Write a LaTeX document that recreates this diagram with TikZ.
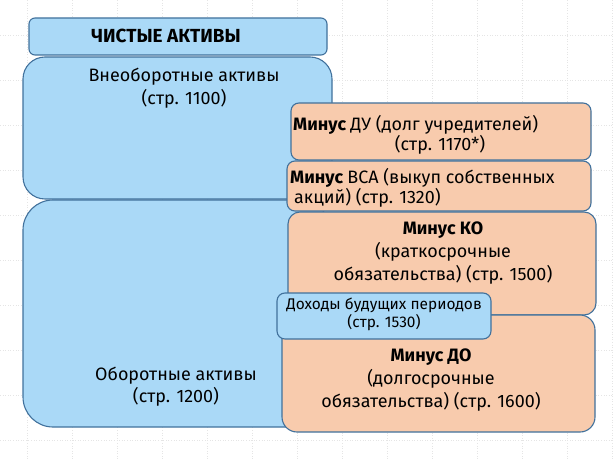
\documentclass[tikz,border=0pt]{standalone}
\usepackage{fontspec}
\setmainfont{Fira Sans}
\definecolor{boxblue}{HTML}{AAD9F7}
\definecolor{boxpeach}{HTML}{F8CBAD}
\definecolor{boxline}{HTML}{41719C}
\tikzset{
  bluebox/.style={draw=boxline, fill=boxblue, line width=1.1pt},
  peachbox/.style={draw=boxline, fill=boxpeach, line width=1.1pt},
  label/.style={inner sep=0pt, align=center, font=\fontsize{18}{23}\selectfont},
  smalllabel/.style={inner sep=0pt, align=center, font=\fontsize{15.5}{18}\selectfont},
}
\begin{document}
\begin{tikzpicture}[x=1bp, y=-1bp]
  \useasboundingbox (0,0) rectangle (613,461);

    %%background grid
    \foreach \gx in {27,72,...,612}
      \draw[black!10, dotted, line width=.6pt](\gx, 0) to (\gx, 461);
    \foreach \gy in {35,80,...,460}
      \draw[black!10, dotted, line width=.6pt](0, \gy) to (613, \gy);

    %%title
    \draw[bluebox, rounded corners=6bp](29, 18) rectangle (327, 55);
    \node[label, font=\fontsize{19}{23}\selectfont] (title) at (166, 36) {\bfseries ЧИСТЫЕ АКТИВЫ};

    %%assets
    \draw[bluebox, rounded corners=22bp](23, 57) rectangle (332, 199);
    \node[label] (vneob) at (184, 88) {Внеоборотные активы\\(стр. 1100)};

    \draw[bluebox, rounded corners=30bp](23, 200) rectangle (330, 427);
    \node[label, font=\fontsize{18}{22}\selectfont] (obor) at (176, 387) {Оборотные активы\\(стр. 1200)};

    %%minus DU
    \draw[peachbox, rounded corners=8bp](291, 103) rectangle (591, 160);
    \node[label, anchor=west] (du) at (293, 125) {\bfseries Минус \mdseries ДУ (долг учредителей)};
    \node[label] (dustr) at (440, 145) {(стр. 1170*)};

    %%minus VSA
    \draw[peachbox, rounded corners=8bp](287, 161) rectangle (591, 211);
    \node[label, anchor=west] (vsa) at (290, 178) {\bfseries Минус \mdseries ВСА (выкуп собственных};
    \node[label, anchor=west] (vsastr) at (294, 198) {акций) (стр. 1320)};

    %%minus KO
    \draw[peachbox, rounded corners=12bp](288, 212) rectangle (596, 315);
    \node[label] (ko) at (443, 253) {\bfseries Минус КО\\(краткосрочные\\обязательства) (стр. 1500)};

    %%minus DO
    \draw[peachbox, rounded corners=15bp](282, 315) rectangle (595, 432);
    \node[label] (do) at (431, 380) {\bfseries Минус ДО\\(долгосрочные\\обязательства) (стр. 1600)};

    %%deferred income
    \draw[bluebox, rounded corners=8bp](277, 293) rectangle (491, 339);
    \node[smalllabel] (dbp) at (384, 314) {Доходы будущих периодов\\(стр. 1530)};

\end{tikzpicture}
\end{document}
